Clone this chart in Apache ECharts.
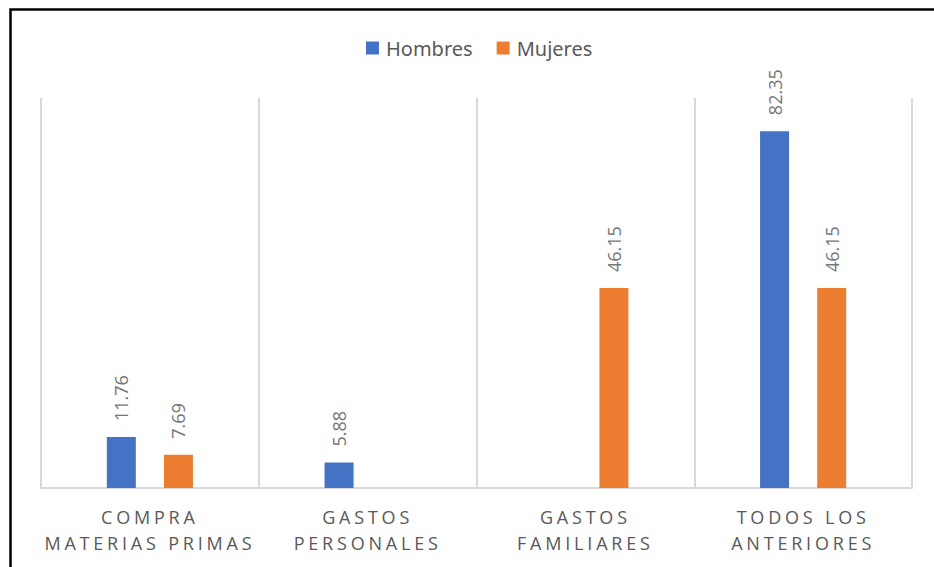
<!DOCTYPE html>
<html>
<head>
<meta charset="utf-8">
<script src="https://cdn.jsdelivr.net/npm/echarts@6/dist/echarts.min.js"></script>
<style>
  html, body { margin: 0; padding: 0; background: #fff; }
  #chart { width: 934px; height: 567px; }
  /* spaced capitals for the category names */
  #chart text[style*="sans-serif"] { letter-spacing: 3.8px; }
</style>
</head>
<body>
<div id="chart"></div>
<script>
const categories = ['COMPRA\nMATERIAS PRIMAS', 'GASTOS\nPERSONALES', 'GASTOS\nFAMILIARES', 'TODOS LOS\nANTERIORES'];
const seriesNames = ['Hombres', 'Mujeres'];
const hombres = [11.76, 5.88, 0, 82.35];
const mujeres = [7.69, 0, 46.15, 46.15];

const colors = ['#4472C4', '#ED7D31'];

const chart = echarts.init(document.getElementById('chart'), null, { renderer: 'svg' });

const valueLabel = {
  show: true,
  position: 'top',
  rotate: 90,
  align: 'left',
  verticalAlign: 'middle',
  distance: 16,
  color: '#767676',
  fontFamily: 'Open Sans',
  fontSize: 18,
  formatter: p => (p.value ? p.value.toFixed(2) : '')
};

chart.setOption({
  animation: false,
  color: colors,
  legend: {
    top: 33,
    left: 361,
    icon: 'rect',
    itemWidth: 13,
    itemHeight: 13,
    itemGap: 24,
    textStyle: { fontFamily: 'Noto Sans', fontSize: 20, color: '#595959', padding: [0, 0, 0, 2] },
    data: seriesNames
  },
  grid: { left: 41, right: 22, top: 98, bottom: 79 },
  xAxis: {
    type: 'category',
    data: categories,
    axisLine: { lineStyle: { color: '#d9d9d9', width: 2 } },
    axisTick: { show: false },
    splitLine: { show: true, lineStyle: { color: '#d9d9d9', width: 2 } },
    axisLabel: {
      margin: 16,
      fontFamily: 'Open Sans, sans-serif',
      fontSize: 18,
      lineHeight: 26,
      color: '#595959',
      interval: 0
    }
  },
  yAxis: {
    type: 'value',
    min: 0,
    max: 90,
    show: false,
    splitLine: { show: false }
  },
  graphic: [{
    type: 'rect',
    shape: { x: 10.5, y: 9.5, width: 960, height: 620 },
    style: { fill: 'none', stroke: '#000', lineWidth: 2.5 },
    silent: true
  }],
  series: [
    { name: seriesNames[0], type: 'bar', data: hombres, barWidth: 29, barGap: '97%', label: valueLabel },
    { name: seriesNames[1], type: 'bar', data: mujeres, barWidth: 29, barGap: '97%', label: valueLabel }
  ]
});
</script>
</body>
</html>
